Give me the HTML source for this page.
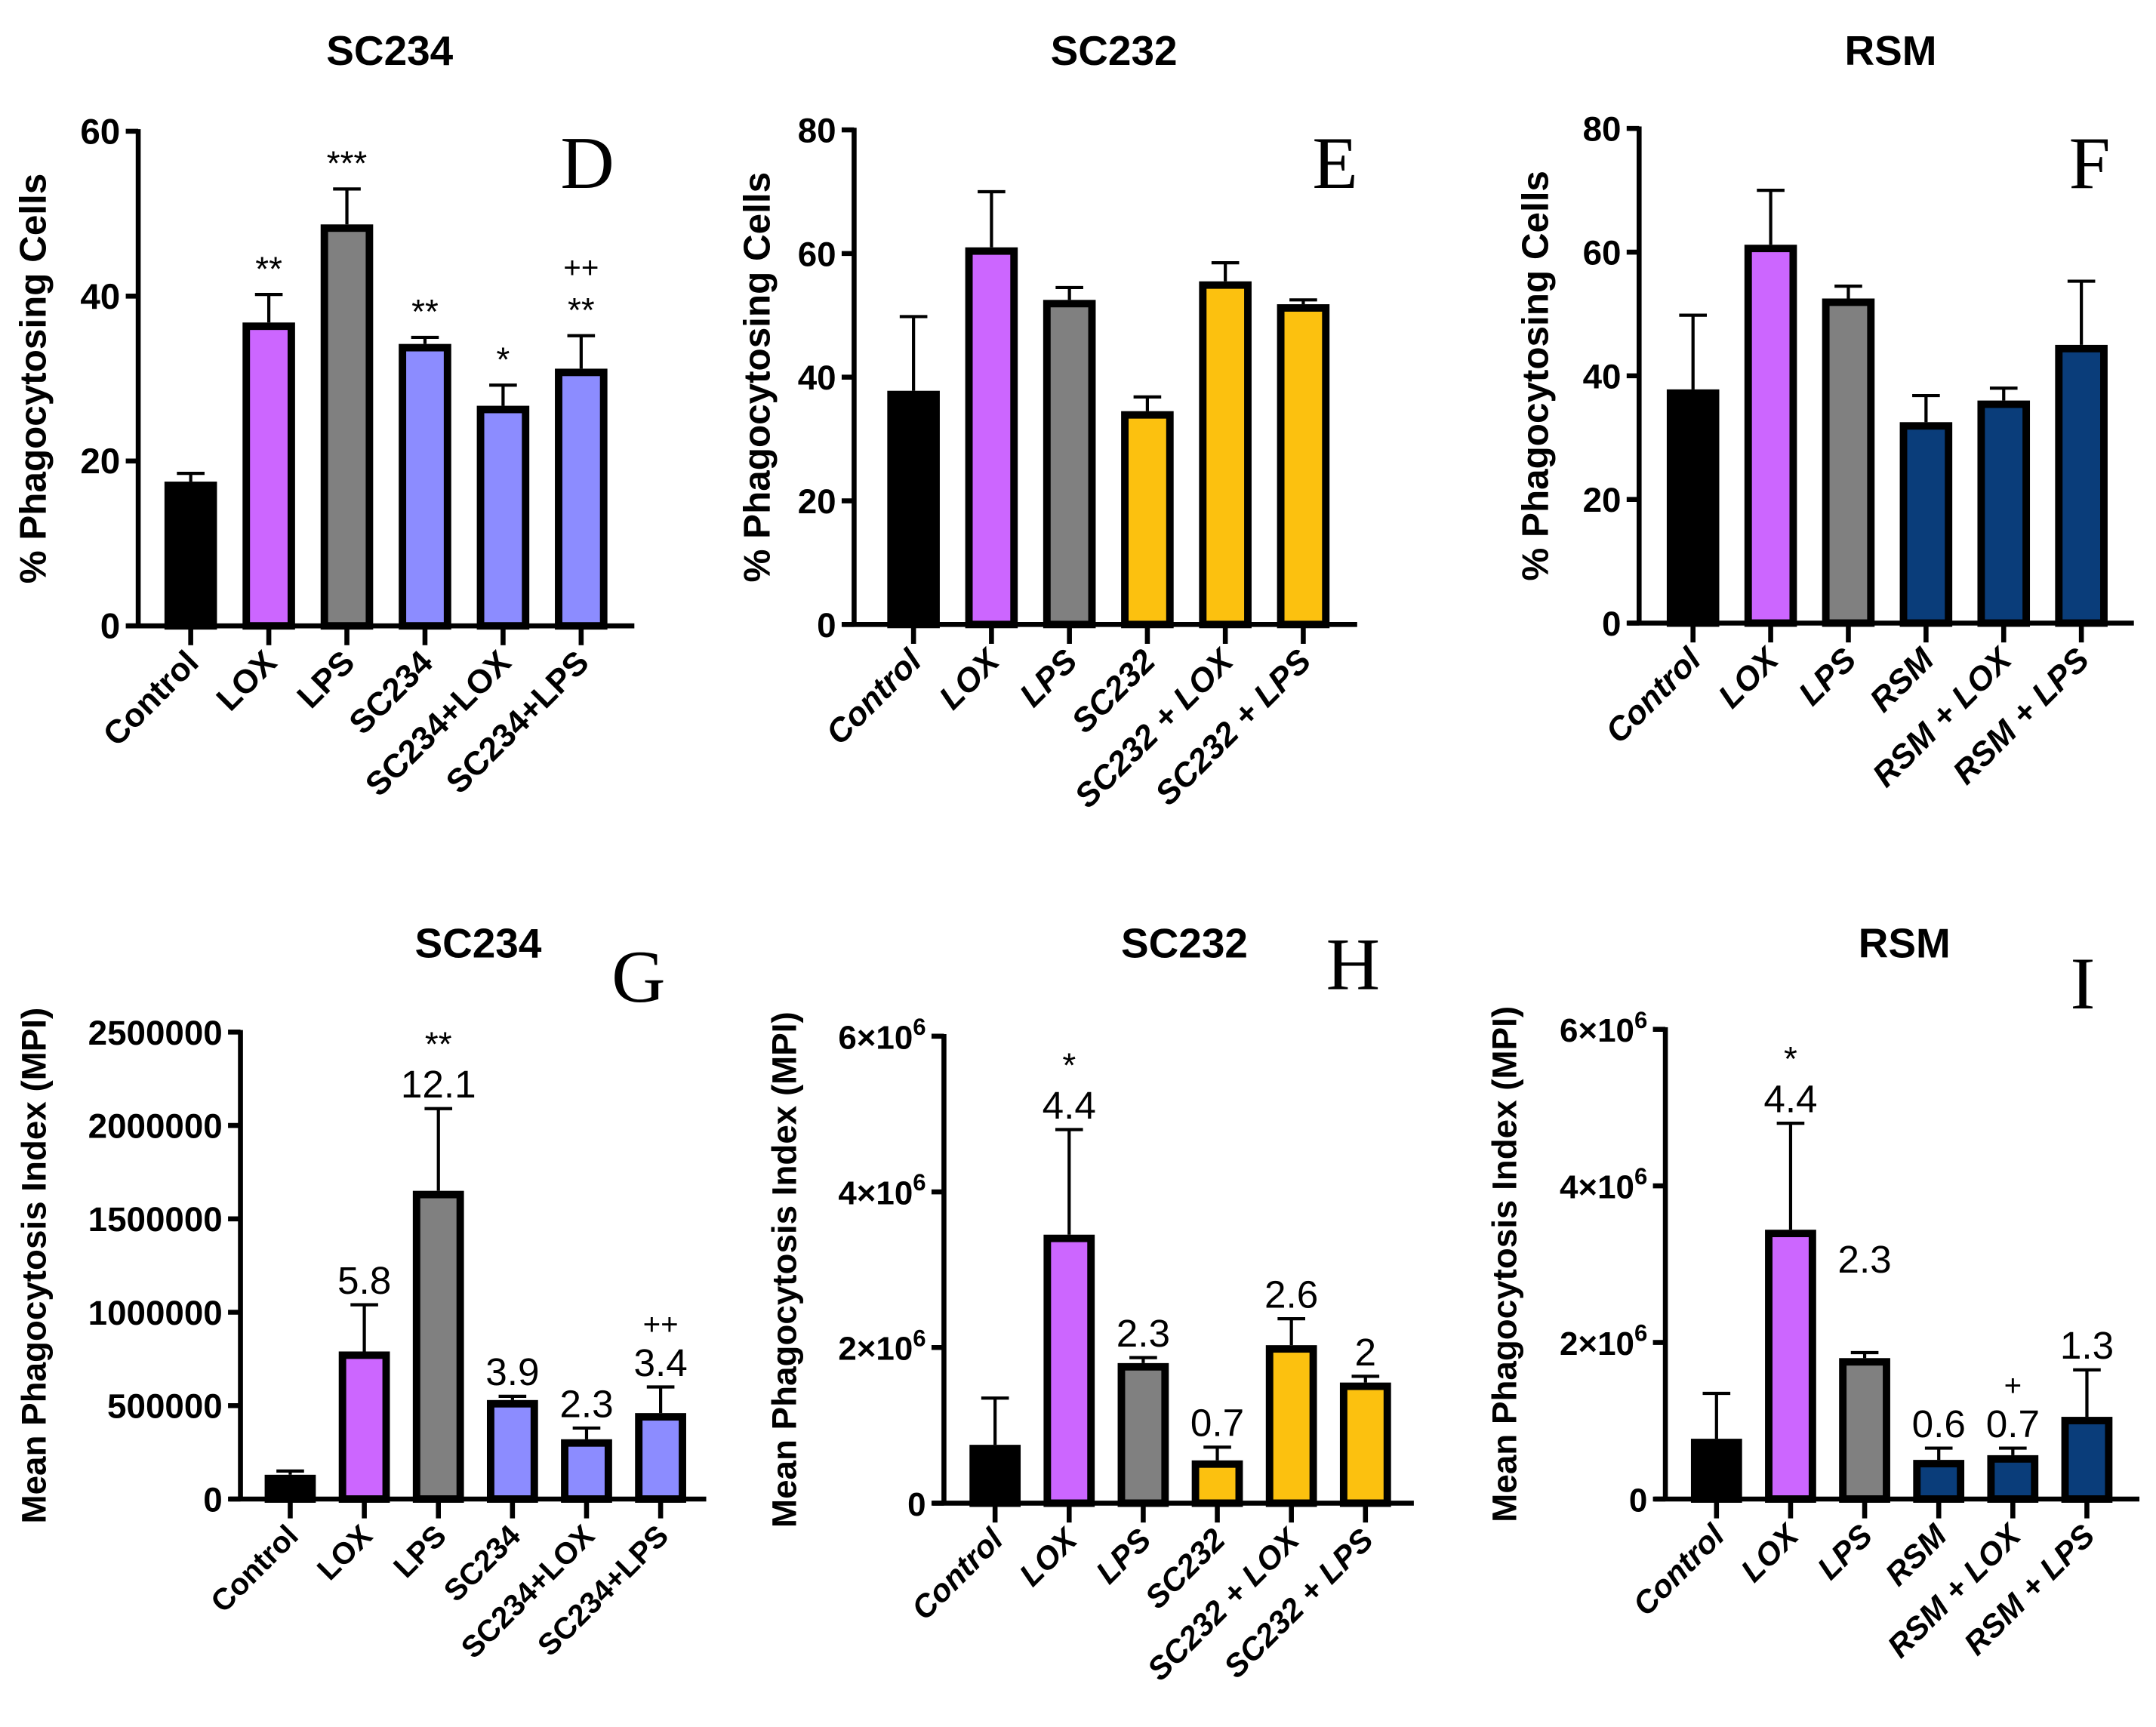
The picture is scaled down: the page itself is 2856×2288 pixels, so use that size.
<!DOCTYPE html>
<html><head><meta charset="utf-8"><style>
html,body{margin:0;padding:0;background:#fff;}
svg{display:block;}
</style></head><body>
<svg id="fig" xmlns="http://www.w3.org/2000/svg" width="2856" height="2288" viewBox="0 0 1560 1250" preserveAspectRatio="none" font-family="Liberation Sans, sans-serif"></svg>
<script>
// ---- data ----
const catsD = ["Control","LOX","LPS","SC234","SC234+LOX","SC234+LPS"];
const catsE = ["Control","LOX","LPS","SC232","SC232 + LOX","SC232 + LPS"];
const catsF = ["Control","LOX","LPS","RSM","RSM + LOX","RSM + LPS"];
const valsD = [17.5,36.8,48.7,34.2,26.7,31.2];
const errD  = [18.5,40.2,53.0,35.0,29.2,35.2];
const valsE = [37.8,61.0,52.5,34.5,55.5,51.8];
const errE  = [49.8,70.0,54.5,36.8,58.5,52.5];
const valsF = [37.8,61.2,52.5,32.5,36.0,45.0];
const errF  = [49.8,70.0,54.5,36.8,38.0,55.3];
const valsG = [130000,790000,1650000,530000,320000,460000];
const errG  = [150000,1040000,2090000,550000,380000,600000];
const valsH = [750000,3450000,1800000,550000,2030000,1550000];
const errH  = [1350000,4800000,1870000,720000,2370000,1630000];
const valsI = [770000,3440000,1800000,500000,560000,1050000];
const errI  = [1350000,4800000,1870000,650000,650000,1650000];
const annD = [[],["**"],["***"],["**"],["*"],["**","++"]];
const annE = [[],[],[],[],[],[]];
const annF = [[],[],[],[],[],[]];
const annG = [[],["5.8"],["12.1","**"],["3.9"],["2.3"],["3.4","++"]];
const annH = [[],["4.4","*"],["2.3"],["0.7"],["2.6"],["2"]];
const annI = [[],["4.4","*"],["2.3"],["0.6"],["0.7","+"],["1.3"]];
const ticksPct = [0,20,40,60,80];
const ticksD = [0,20,40,60];
const ticksG = [0,500000,1000000,1500000,2000000,2500000];
const ticksH = [0,2000000,4000000,6000000];
const colorsD = ["#000000","#cc66ff","#808080","#8c8cff","#8c8cff","#8c8cff"];
const colorsE = ["#000000","#cc66ff","#808080","#fcc10f","#fcc10f","#fcc10f"];
const colorsF = ["#000000","#cc66ff","#808080","#0a3d7a","#0a3d7a","#0a3d7a"];

const NS="http://www.w3.org/2000/svg";
const svg=document.getElementById('fig');
const SANS='"Liberation Sans", sans-serif';
function mk(tag,attrs,parent){const e=document.createElementNS(NS,tag);for(const k in attrs)e.setAttribute(k,attrs[k]);(parent||svg).appendChild(e);return e;}

function panel(p){
  const g=mk('g',{});
  
  
  const yS=v=>p.y0-(v/p.max)*(p.y0-p.yTop);
  const xS=i=>p.c0+i*p.step;
  const t=mk('text',{x:p.tx,y:p.ty,'text-anchor':'middle','font-size':30,'font-weight':'bold','font-family':SANS},g);
  t.textContent=p.title;
  
  
  const L=mk('text',{x:p.lx,y:p.ly,'text-anchor':'middle','font-size':54,'font-family':'"Liberation Serif", serif'},g);
  L.textContent=p.letter;
  
  
  const yc=(p.y0+p.yTop)/2+p.ytOff;
  const yt=mk('text',{x:0,y:0,'text-anchor':'middle','font-size':p.ytSize,'font-weight':'bold','font-family':SANS,
    transform:`translate(${p.ytx},${yc}) rotate(-90)`},g);
  yt.textContent=p.ytitle;
  
  
  p.vals.forEach((v,i)=>{
    const cx=xS(i),w=p.bw;
    const et=yS(p.errs[i]);
    const el=mk('line',{x1:cx,x2:cx,y1:yS(v),y2:et,stroke:'#000','stroke-width':2.3},g);
    
    
    const ec=mk('line',{x1:cx-10,x2:cx+10,y1:et,y2:et,stroke:'#000','stroke-width':2.3},g);
    
    
    const r=mk('rect',{x:cx-w/2+2.7,y:yS(v)+2.7,width:w-5.4,height:Math.max(0,p.y0-yS(v)-2.7),fill:p.colors[i],stroke:'#000','stroke-width':5.4},g);
    
    
    let by=et-(p.numAnn?8:10)-(p.extra&&p.extra[i]?p.extra[i]:0);
    p.ann[i].forEach((a)=>{
      const isNum=/[0-9]/.test(a);
      const at=mk('text',{x:cx,y:by,'text-anchor':'middle','font-size':isNum?28:(a.indexOf('+')>=0?22:25),'font-family':SANS},g);
      at.textContent=a;
      
      
      by-= isNum?30:32;
    });
    const xt=mk('line',{x1:cx,x2:cx,y1:p.y0,y2:p.y0+14,stroke:'#000','stroke-width':3.6},g);
    
    
    const xl=mk('text',{x:0,y:0,'text-anchor':'end','font-size':p.xlSize,'font-weight':'bold','font-family':SANS,
      'font-style':p.narrow?'italic':'normal',transform:`translate(${cx+7},${p.y0+28}) rotate(-45)`},g);
    xl.textContent=p.cats[i];
    
    
  });
  const ya=mk('line',{x1:p.ax,x2:p.ax,y1:p.yTop-1.5,y2:p.y0,stroke:'#000','stroke-width':3.6},g);
  
  
  const xa=mk('line',{x1:p.ax-8,x2:p.xEnd,y1:p.y0,y2:p.y0,stroke:'#000','stroke-width':3.6},g);
  
  
  p.ticks.forEach(tv=>{
    const y=yS(tv);
    const tl=mk('line',{x1:p.ax-9,x2:p.ax,y1:y,y2:y,stroke:'#000','stroke-width':3.6},g);
    
    
    const tt=mk('text',{x:p.ax-13,y:y+9,'text-anchor':'end','font-size':p.tkSize,'font-weight':'bold','font-family':SANS},g);
    if(p.sci&&tv!==0){
      tt.appendChild(document.createTextNode((tv/1e6)+'×10'));
      const s=mk('tspan',{dy:-10,'font-size':17},tt); s.textContent='6';
    } else tt.textContent=String(tv);
    
    
  });
}

panel({id:'d',title:'SC234',tx:282,ty:47,letter:'D',lx:425,ly:136,ytitle:'% Phagocytosing Cells',ytx:33,ytOff:0,ytSize:27,tkSize:26,xlSize:24,
  ax:100,y0:453,yTop:95,max:60,xEnd:459,c0:138,step:56.5,bw:38,vals:valsD,errs:errD,ann:annD,cats:catsD,colors:colorsD,ticks:ticksD});
panel({id:'e',title:'SC232',tx:806,ty:47,letter:'E',lx:966,ly:136,ytitle:'% Phagocytosing Cells',ytx:557,ytOff:0,ytSize:27,tkSize:25,xlSize:24,narrow:true,
  ax:618,y0:452,yTop:94,max:80,xEnd:982,c0:661,step:56.4,bw:38,vals:valsE,errs:errE,ann:annE,cats:catsE,colors:colorsE,ticks:ticksPct});
panel({id:'f',title:'RSM',tx:1368,ty:47,letter:'F',lx:1512,ly:136,ytitle:'% Phagocytosing Cells',ytx:1120,ytOff:0,ytSize:27,tkSize:25,xlSize:24,narrow:true,
  ax:1186,y0:451,yTop:93,max:80,xEnd:1544,c0:1225,step:56.2,bw:38,vals:valsF,errs:errF,ann:annF,cats:catsF,colors:colorsF,ticks:ticksPct});
panel({id:'g',title:'SC234',tx:346,ty:693,letter:'G',lx:462,ly:725,ytitle:'Mean Phagocytosis Index (MPI)',ytx:33,ytOff:0,ytSize:25,tkSize:25,xlSize:22,numAnn:true,
  ax:174,y0:1085,yTop:747,max:2500000,xEnd:511,c0:210,step:53.6,bw:37,vals:valsG,errs:errG,ann:annG,cats:catsD,colors:colorsD,ticks:ticksG});
panel({id:'h',title:'SC232',tx:857,ty:693,letter:'H',lx:979,ly:716,ytitle:'Mean Phagocytosis Index (MPI)',ytx:576,ytOff:0,ytSize:25,tkSize:24,xlSize:23,numAnn:true,narrow:true,
  ax:683,y0:1088,yTop:750,max:6000000,xEnd:1023,c0:720,step:53.6,bw:37,vals:valsH,errs:errH,ann:annH,cats:catsE,colors:colorsE,ticks:ticksH,sci:true});
panel({id:'i',title:'RSM',tx:1378,ty:693,letter:'I',lx:1507,ly:730,ytitle:'Mean Phagocytosis Index (MPI)',ytx:1097,ytOff:0,ytSize:25,tkSize:24,xlSize:23,numAnn:true,narrow:true,
  ax:1205,y0:1085,yTop:745,max:6000000,xEnd:1548,c0:1242,step:53.6,bw:37,vals:valsI,errs:errI,ann:annI,cats:catsF,colors:colorsF,ticks:ticksH,sci:true,
  extra:[0,0,50,0,0,0]});
</script>
</body></html>
